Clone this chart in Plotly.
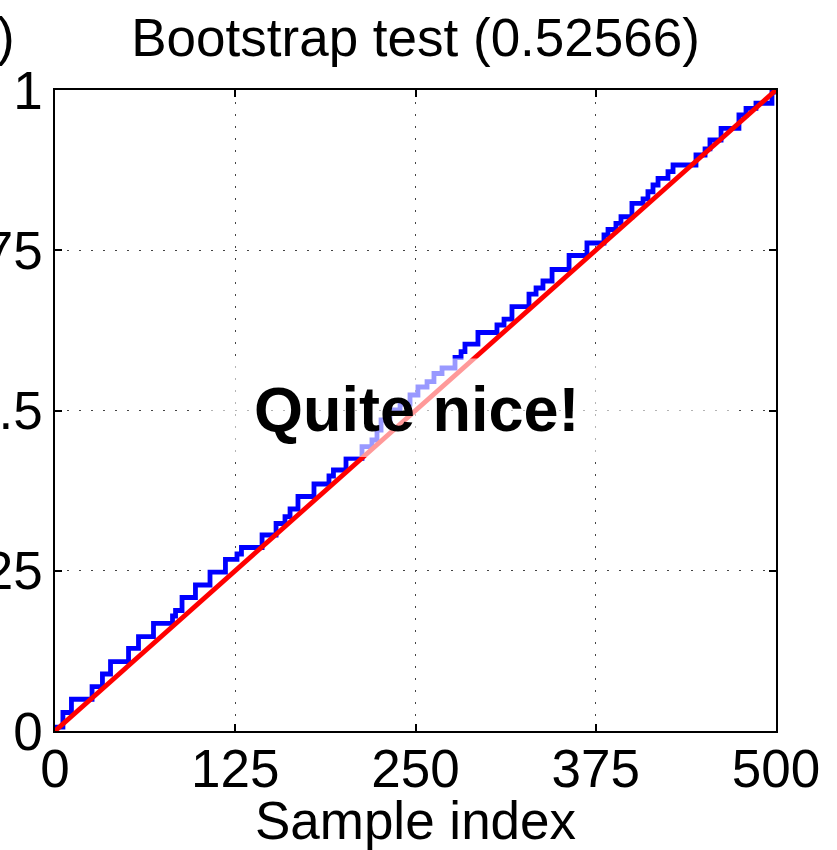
import plotly.graph_objects as go

# Step positions (sample index where each level starts) and levels of the bootstrap curve
step_x = [0, 5.5, 11.4, 25.7, 32.9, 38.5, 51.0, 57.9, 68.3, 81.5, 83.6, 88.1, 97.4,
          107.5, 118.2, 126.2, 129.3, 143.6, 153.3, 159.5, 163.0, 168.5, 179.6, 190.0,
          193.1, 201.8, 212.9, 219.8, 223.3, 226.1, 232.3, 239.3, 246.2, 251.7, 258.0,
          262.8, 268.4, 277.4, 281.6, 284.3, 293.3, 306.5, 311.4, 316.9, 328.7, 333.6,
          338.4, 344.7, 356.5, 368.9, 380.7, 383.5, 389.0, 392.5, 400.1, 407.8, 411.2,
          414.7, 418.2, 425.1, 428.6, 444.5, 450.8, 454.2, 461.9, 474.3, 479.2, 486.1,
          497.2, 500]
step_y = [0.006, 0.0289, 0.0495, 0.0691, 0.0889, 0.1081, 0.1290, 0.1471, 0.1680, 0.1794,
          0.1880, 0.2083, 0.2278, 0.2480, 0.2676, 0.2761, 0.2863, 0.3058, 0.3237, 0.3343,
          0.3463, 0.3658, 0.3853, 0.3978, 0.4072, 0.4254, 0.4435, 0.4540, 0.4696, 0.4852,
          0.5008, 0.5101, 0.5242, 0.5367, 0.5452, 0.5577, 0.5663, 0.5827, 0.5917, 0.6037,
          0.6217, 0.6334, 0.6427, 0.6619, 0.6817, 0.6911, 0.7020, 0.7200, 0.7418, 0.7613,
          0.7738, 0.7824, 0.7920, 0.8023, 0.8232, 0.8300, 0.8413, 0.8518, 0.8622, 0.8726,
          0.8830, 0.8986, 0.9080, 0.9220, 0.9402, 0.9610, 0.9714, 0.9793, 0.9969, 1.0]

# Reference diagonal
ref_x = [0, 500]
ref_y = [0, 1]

x_ticks = [0, 125, 250, 375, 500]
x_tick_labels = ["0", "125", "250", "375", "500"]
y_ticks = [0, 0.25, 0.5, 0.75, 1]
y_tick_labels = ["0", "0.25", "0.5", "0.75", "1"]

title_text = "Bootstrap test (0.52566)"
x_title = "Sample index"
note_text = "Quite nice!"

FONT = "Liberation Sans, Arial, Helvetica, sans-serif"

fig = go.Figure()
fig.add_trace(go.Scatter(x=step_x, y=step_y, mode="lines", line_shape="hv",
                         line=dict(color="#0000FF", width=4.8), showlegend=False))
fig.add_trace(go.Scatter(x=ref_x, y=ref_y, mode="lines",
                         line=dict(color="#FF0000", width=4.8), showlegend=False))

# semi-transparent white box behind the note
fig.add_shape(type="rect", xref="x", yref="y", x0=107.5, x1=471.6, y0=0.4275, y1=0.581,
              fillcolor="rgba(255,255,255,0.6)", line=dict(width=0), layer="above")

fig.add_annotation(x=251, y=0.502, xref="x", yref="y", text="<b>" + note_text + "</b>",
                   showarrow=False, font=dict(family=FONT, size=63, color="black"),
                   xanchor="center", yanchor="middle")

# cut-off title of neighbouring panel
fig.add_annotation(x=-0.068, y=1, xref="paper", yref="paper", yshift=54, text=")",
                   showarrow=False, font=dict(family=FONT, size=53, color="black"),
                   xanchor="center", yanchor="middle")

axis_common = dict(showline=True, linecolor="black", linewidth=1.5, mirror="ticks",
                   ticks="inside", ticklen=7, tickwidth=1.5, tickcolor="black",
                   showgrid=True, gridcolor="#444", gridwidth=1, griddash="1.5px,10.5px",
                   zeroline=False, automargin=False,
                   tickfont=dict(family=FONT, size=53, color="black"))

fig.update_xaxes(range=[0, 500], tickvals=x_ticks, ticktext=x_tick_labels,
                 ticklabelstandoff=-9,
                 title=dict(text=x_title, font=dict(family=FONT, size=53, color="black"),
                            standoff=0),
                 **axis_common)
fig.update_yaxes(range=[0, 1], tickvals=y_ticks, ticktext=y_tick_labels,
                 ticklabelstandoff=0, **axis_common)

fig.update_layout(
    width=837, height=850,
    margin=dict(l=55, r=61, t=90, b=119, autoexpand=False),
    paper_bgcolor="white", plot_bgcolor="white",
    title=dict(text=title_text, x=0.4965, xanchor="center", y=1 - 37 / 850,
               yanchor="middle", font=dict(family=FONT, size=53, color="black")),
)

fig.write_html("out.html", config={"displayModeBar": False},
               post_script="document.body.style.margin='0px';")
